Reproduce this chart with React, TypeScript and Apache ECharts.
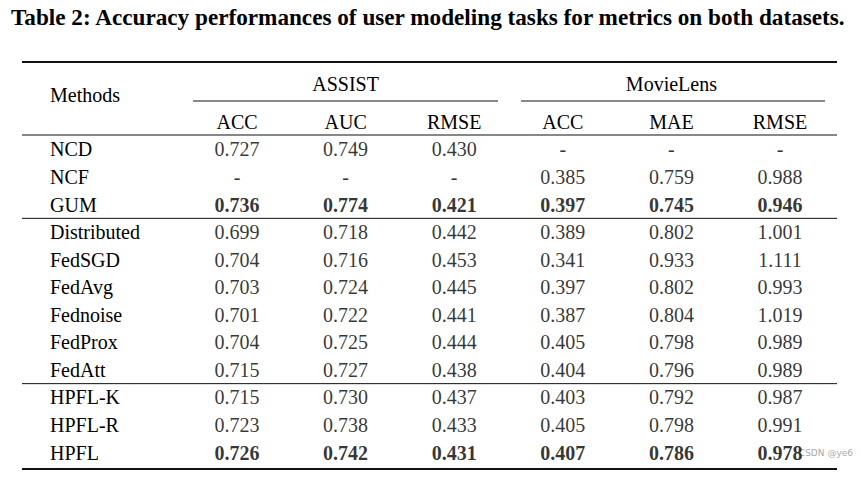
import React, { useEffect, useRef } from "react";
import * as echarts from "echarts";

const titleText = "Table 2: Accuracy performances of user modeling tasks for metrics on both datasets.";
const datasets = ["ASSIST", "MovieLens"];
const columnKeys = ["ASSIST|ACC", "ASSIST|AUC", "ASSIST|RMSE", "MovieLens|ACC", "MovieLens|MAE", "MovieLens|RMSE"];
const methods = ["NCD", "NCF", "GUM", "Distributed", "FedSGD", "FedAvg", "Fednoise", "FedProx", "FedAtt", "HPFL-K", "HPFL-R", "HPFL"];
const boldMethods = ["GUM", "HPFL"];

const assistAcc = [0.727, null, 0.736, 0.699, 0.704, 0.703, 0.701, 0.704, 0.715, 0.715, 0.723, 0.726];
const assistAuc = [0.749, null, 0.774, 0.718, 0.716, 0.724, 0.722, 0.725, 0.727, 0.730, 0.738, 0.742];
const assistRmse = [0.430, null, 0.421, 0.442, 0.453, 0.445, 0.441, 0.444, 0.438, 0.437, 0.433, 0.431];
const movieAcc = [null, 0.385, 0.397, 0.389, 0.341, 0.397, 0.387, 0.405, 0.404, 0.403, 0.405, 0.407];
const movieMae = [null, 0.759, 0.745, 0.802, 0.933, 0.802, 0.804, 0.798, 0.796, 0.792, 0.798, 0.786];
const movieRmse = [null, 0.988, 0.946, 1.001, 1.111, 0.993, 1.019, 0.989, 0.989, 0.987, 0.991, 0.978];

const columnsData = [assistAcc, assistAuc, assistRmse, movieAcc, movieMae, movieRmse];

const FONT = "'Liberation Serif', 'Times New Roman', serif";
const W = 863;
const H = 478;
const colW = 108.6;
const gridLeft = 182.7;
const gridTop = 135.7;
const rowH = 27.55;
const lineColor = "#111";

export default function App() {
  const ref = useRef<HTMLDivElement>(null);
  useEffect(() => {
    if (!ref.current) return;
    const chart = echarts.init(ref.current, null, { renderer: "svg" });

    const cells: any[] = [];
    columnsData.forEach((col, c) => {
      col.forEach((v, r) => {
        const bold = boldMethods.includes(methods[r]);
        cells.push({
          value: [c, r],
          label: {
            formatter: v == null ? "-" : (v as number).toFixed(3),
            fontWeight: bold ? "bold" : "normal",
          },
        });
      });
    });

    const gridRight = W - (gridLeft + colW * columnKeys.length);
    const gridBottom = H - (gridTop + rowH * methods.length);
    const ruleX1 = 22;
    const ruleX2 = 837;
    const hline = (y: number, w: number, x1 = ruleX1, x2 = ruleX2) => ({
      type: "line",
      shape: { x1, y1: y, x2, y2: y },
      style: { stroke: lineColor, lineWidth: w },
      silent: true,
    });
    const txt = (x: number, y: number, text: string, extra: any = {}) => ({
      type: "text",
      x,
      y,
      style: {
        text,
        fill: "#000",
        font: `20px ${FONT}`,
        align: "center",
        verticalAlign: "middle",
        ...extra,
      },
    });

    const groupCenter = (g: number) => gridLeft + colW * (g * 3 + 1.5);

    chart.setOption({
      animation: false,
      backgroundColor: "#fff",
      grid: { left: gridLeft, right: gridRight, top: gridTop, bottom: gridBottom },
      xAxis: {
        type: "category",
        position: "top",
        data: columnKeys,
        axisLine: { show: false },
        axisTick: { show: false },
        splitLine: { show: false },
        axisLabel: {
          formatter: (v: string) => v.split("|")[1],
          margin: 14,
          verticalAlign: "middle",
          color: "#000",
          fontFamily: FONT,
          fontSize: 20,
          interval: 0,
        },
      },
      yAxis: {
        type: "category",
        data: methods,
        inverse: true,
        axisLine: { show: false },
        axisTick: { show: false },
        splitLine: { show: false },
        axisLabel: {
          margin: gridLeft - 50,
          align: "left",
          color: "#000",
          fontFamily: FONT,
          fontSize: 20,
          interval: 0,
        },
      },
      series: [
        {
          type: "scatter",
          symbolSize: 0,
          data: cells,
          label: {
            show: true,
            position: "inside",
            color: "#000",
            fontFamily: FONT,
            fontSize: 20,
          },
        },
      ],
      graphic: [
        txt(11, 17, titleText, { align: "left", font: `bold 23.2px ${FONT}` }),
        hline(62, 2),
        txt(groupCenter(0), 83.5, datasets[0]),
        txt(groupCenter(1), 83.5, datasets[1]),
        txt(50, 95, "Methods", { align: "left" }),
        hline(101, 1, 193, 498),
        hline(101, 1, 521, 825),
        hline(135, 1.2),
        hline(gridTop + rowH * 3, 1),
        hline(gridTop + rowH * 9, 1),
        hline(469, 2),
        txt(853, 453, "CSDN @ye6", {
          align: "right",
          font: "9px 'DejaVu Sans', sans-serif",
          fill: "#aaa",
        }),
      ],
    });
    return () => chart.dispose();
  }, []);
  return (
    <div
      ref={ref}
      style={{ position: "fixed", left: 0, top: 0, width: W, height: H, background: "#fff" }}
    />
  );
}
